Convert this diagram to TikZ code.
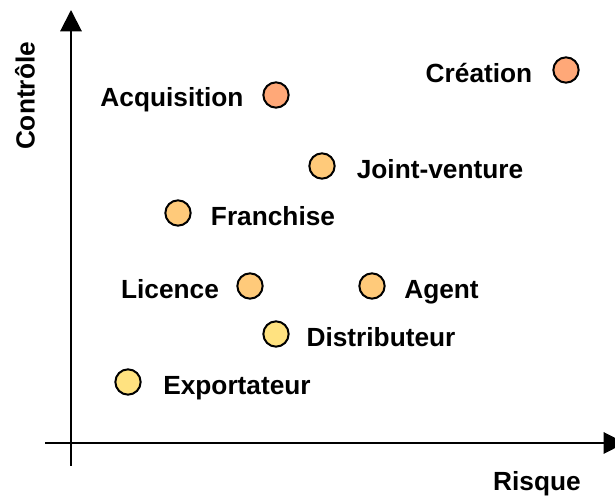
\documentclass[tikz,border=0pt]{standalone}
\usepackage{fontspec}
\setmainfont{Liberation Sans}
\usepackage{tikz}
\usetikzlibrary{arrows.meta,positioning,calc}
\definecolor{salmon}{RGB}{255,168,120}
\definecolor{lightorange}{RGB}{255,202,122}
\definecolor{paleyellow}{RGB}{255,226,128}
\tikzstyle{Pt}=[shape=circle,draw=black,line width=1.5pt,minimum size=19pt,inner sep=0pt]
\tikzstyle{Lbl}=[font=\fontsize{19.7}{22}\selectfont\bfseries,inner sep=0pt,anchor=base]
\tikzstyle{axis}=[line width=1.5pt,-{Triangle[length=16pt,width=16pt]}]

\begin{document}
\begin{tikzpicture}[x=0.75pt,y=-0.75pt]
\useasboundingbox (0,0) rectangle (615,498);

% axes
\coordinate (O1) at (71,466);
\coordinate (YTOP) at (71,10);
\coordinate (O2) at (45,443);
\coordinate (XEND) at (625,443);
\draw[axis] (O1) -- (YTOP);
\draw[axis] (O2) -- (XEND);

\node[Lbl,anchor=center,rotate=90] (YLAB) at (25,96) {Contrôle};
\node[Lbl] (XLAB) at (537,491) {Risque};

% points
\node[Pt,fill=salmon] (ACQ) at (276,95){};
\node[Lbl] (ACQL) at (172,106.5) {Acquisition};

\node[Pt,fill=salmon] (CREA) at (566,70){};
\node[Lbl] (CREAL) at (479,82.7) {Création};

\node[Pt,fill=lightorange] (JV) at (322,166){};
\node[Lbl] (JVL) at (440,178.5) {Joint-venture};

\node[Pt,fill=lightorange] (FRAN) at (178,213){};
\node[Lbl] (FRANL) at (273,225.5) {Franchise};

\node[Pt,fill=lightorange] (LIC) at (250,286){};
\node[Lbl] (LICL) at (170,298.3) {Licence};

\node[Pt,fill=lightorange] (AGT) at (372,286){};
\node[Lbl] (AGTL) at (441.5,298.3) {Agent};

\node[Pt,fill=paleyellow] (DIST) at (276,334){};
\node[Lbl] (DISTL) at (381,346.7) {Distributeur};

\node[Pt,fill=paleyellow] (EXP) at (128,382){};
\node[Lbl] (EXPL) at (237,394.5) {Exportateur};

\end{tikzpicture}
\end{document}
